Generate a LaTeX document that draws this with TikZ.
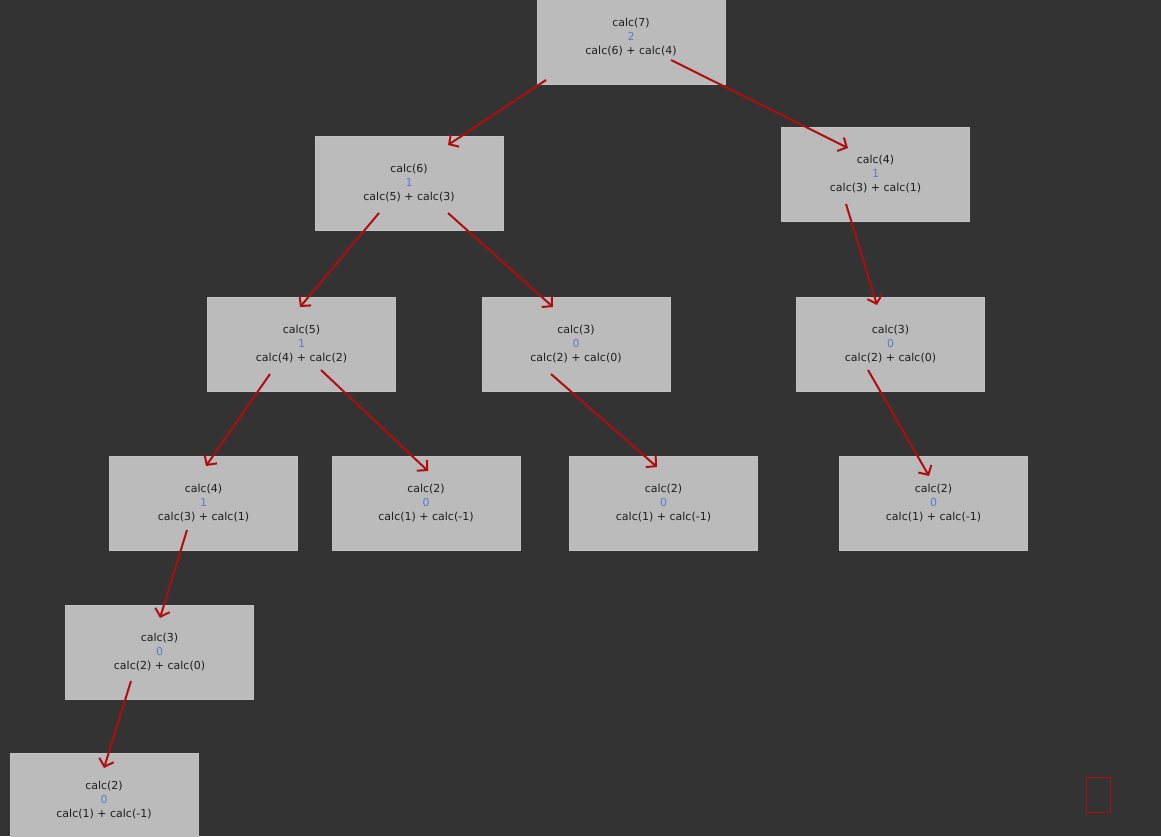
\documentclass[tikz,border=0pt]{standalone}
\usepackage{fontspec}
\setmainfont{DejaVu Sans}
\usetikzlibrary{arrows.meta}
\definecolor{bgc}{HTML}{333333}
\definecolor{boxc}{HTML}{BBBBBB}
\definecolor{txtc}{HTML}{1E1E1E}
\definecolor{numc}{HTML}{5B7BC9}
\definecolor{arrc}{HTML}{B00E0E}
\tikzset{
  callbox/.style={rectangle, fill=boxc, draw=boxc!90!white, line width=0.6pt,
    minimum width=188pt, minimum height=94pt, inner sep=0pt, align=center,
    text=txtc, font=\fontsize{11}{14}\selectfont},
  callarrow/.style={draw=arrc, line width=2pt, -{Straight Barb[length=7pt,width=15pt,line width=2pt]}},
}
\newcommand{\callt}[3]{#1\\\textcolor{numc}{#2}\\#3}
\begin{document}
\begin{tikzpicture}[x=1pt,y=-1pt]
\useasboundingbox (0,0) rectangle (1161,836);
\fill[bgc] (0,0) rectangle (1161,836);
\clip (0,0) rectangle (1161,836);
\node[callbox] (n7) at (631,37) {\callt{calc(7)}{2}{calc(6) + calc(4)}};
\node[callbox] (n6) at (409,183.5) {\callt{calc(6)}{1}{calc(5) + calc(3)}};
\node[callbox] (n4a) at (875.5,174) {\callt{calc(4)}{1}{calc(3) + calc(1)}};
\node[callbox] (n5) at (301.5,344.5) {\callt{calc(5)}{1}{calc(4) + calc(2)}};
\node[callbox] (n3a) at (576,344.5) {\callt{calc(3)}{0}{calc(2) + calc(0)}};
\node[callbox] (n3b) at (890.5,344.5) {\callt{calc(3)}{0}{calc(2) + calc(0)}};
\node[callbox] (n4b) at (203.5,503.5) {\callt{calc(4)}{1}{calc(3) + calc(1)}};
\node[callbox] (n2a) at (426,503.5) {\callt{calc(2)}{0}{calc(1) + calc(-1)}};
\node[callbox] (n2b) at (663.5,503.5) {\callt{calc(2)}{0}{calc(1) + calc(-1)}};
\node[callbox] (n2c) at (933.5,503.5) {\callt{calc(2)}{0}{calc(1) + calc(-1)}};
\node[callbox] (n3c) at (159.5,652.5) {\callt{calc(3)}{0}{calc(2) + calc(0)}};
\node[callbox] (n2d) at (104,800) {\callt{calc(2)}{0}{calc(1) + calc(-1)}};
\draw[callarrow] ([shift={(-85,43)}]n7.center) -- ([shift={(39,-38.5)}]n6.center);
\draw[callarrow] ([shift={(40,23)}]n7.center) -- ([shift={(-27.5,-26)}]n4a.center);
\draw[callarrow] ([shift={(-30,29.5)}]n6.center) -- ([shift={(-1.5,-37.5)}]n5.center);
\draw[callarrow] ([shift={(39,29.5)}]n6.center) -- ([shift={(-23,-37.5)}]n3a.center);
\draw[callarrow] ([shift={(-29.5,30)}]n4a.center) -- ([shift={(-13.5,-39.5)}]n3b.center);
\draw[callarrow] ([shift={(-31.5,29.5)}]n5.center) -- ([shift={(2.5,-37.5)}]n4b.center);
\draw[callarrow] ([shift={(19.5,25.5)}]n5.center) -- ([shift={(2,-32.5)}]n2a.center);
\draw[callarrow] ([shift={(-25,29.5)}]n3a.center) -- ([shift={(-6.5,-36.5)}]n2b.center);
\draw[callarrow] ([shift={(-22.5,25.5)}]n3b.center) -- ([shift={(-4.5,-27.5)}]n2c.center);
\draw[callarrow] ([shift={(-16.5,26.5)}]n4b.center) -- ([shift={(0.5,-34.5)}]n3c.center);
\draw[callarrow] ([shift={(-28.5,28.5)}]n3c.center) -- ([shift={(0,-32)}]n2d.center);
\draw[arrc, line width=1.5pt] (1086.5,777.5) rectangle (1110.5,812.5);
\end{tikzpicture}
\end{document}
